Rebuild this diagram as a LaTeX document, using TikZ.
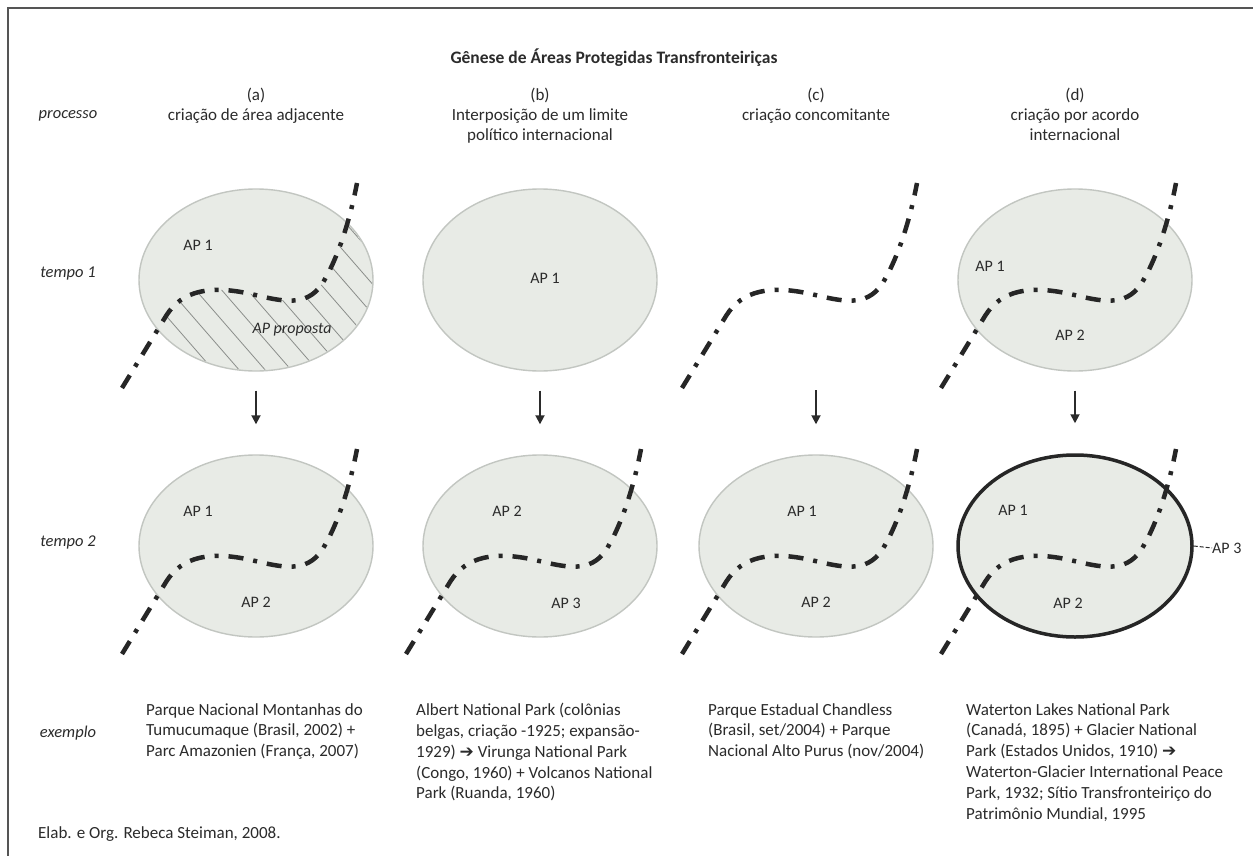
\documentclass[tikz,border=0pt]{standalone}
\usepackage{fontspec}
\setmainfont{Carlito}
\newfontfamily\dejavu{DejaVu Sans}
\usetikzlibrary{shapes.geometric,arrows.meta}
\definecolor{txt}{HTML}{2B2B2B}
\definecolor{apfill}{HTML}{E8EBE6}
\definecolor{apedge}{HTML}{C2C6C1}
\definecolor{bline}{HTML}{262626}
\definecolor{hatchc}{HTML}{8A8D8A}
\definecolor{framec}{HTML}{555555}
\newcommand\bigarrow{{\dejavu\char"2794}}
\newcommand\frontierpath{(-134,108) -- (-90,36) .. controls (-74,10) and (-45,5) .. (-5,14) .. controls (25,21) and (50,28) .. (66,4) .. controls (80,-18) and (93,-55) .. (101,-97)}
\newcommand\drawfrontier[2]{\begin{scope}[shift={(#1,#2)}]\draw[border] (-134,108) -- (-90,36) .. controls (-74,10) and (-45,5) .. (-5,14) .. controls (25,21) and (50,28) .. (66,4) .. controls (80,-18) and (93,-55) .. (101,-97);\end{scope}}
\begin{document}
\begin{tikzpicture}[x=1pt,y=-1pt,
  ap/.style={ellipse, draw=apedge, line width=1.4pt, fill=apfill, minimum width=234pt, minimum height=182pt, inner sep=0pt},
  apbold/.style={ap, draw=black!85, line width=3.5pt},
  lbl/.style={text=txt, inner sep=0pt, font=\fontsize{16}{19}\selectfont},
  rowlbl/.style={lbl, font=\itshape\fontsize{16.5}{19}\selectfont},
  head/.style={lbl, align=center, anchor=north, font=\fontsize{17}{20}\selectfont},
  extext/.style={lbl, align=left, anchor=north west, font=\fontsize{17}{20.8}\selectfont},
  border/.style={draw=bline, line width=4.5pt, dash pattern=on 15pt off 10pt on 4pt off 10pt},
  hatchline/.style={draw=hatchc, line width=0.8pt},
  arr/.style={draw=txt, line width=1.8pt, -{Triangle[width=9pt,length=9pt]}}
]
\useasboundingbox (0,0) rectangle (1253,856);
\fill[white] (0,0) rectangle (1253,856);
% frame
\draw[framec, line width=1.6pt] (8,856) -- (8,8) -- (1253,8);

% title
\node[lbl, font=\bfseries\fontsize{17.5}{20}\selectfont] (title) at (614,58) {Gênese de Áreas Protegidas Transfronteiriças};

% row labels
\node[rowlbl] (lproc) at (68,116) {processo};
\node[rowlbl] (lt1) at (68,274) {tempo 1};
\node[rowlbl] (lt2) at (68,542) {tempo 2};
\node[rowlbl] (lex) at (68,733) {exemplo};

% headers
\node[head] (ha) at (256,88) {(a)\\criação de área adjacente};
\node[head] (hb) at (540,88) {(b)\\Interposição de um limite\\político internacional};
\node[head] (hc) at (816,88) {(c)\\criação concomitante};
\node[head] (hd) at (1075,88) {(d)\\criação por acordo\\internacional};

% tempo 1
\node[ap] (a1) at (256,280) {};
\begin{scope}[shift={(256,280)}]
  \clip (0,0) ellipse [x radius=116, y radius=90];
  \clip \frontierpath -- (160,-97) -- (160,130) -- (-160,130) -- cycle;
  \foreach \k in {-14,...,12} \draw[hatchline] (\k*26,-100) -- ++(200,230);
\end{scope}
\node[ap] (b1) at (540,280) {};
\coordinate (c1) at (816,280);
\node[ap] (d1) at (1075,280) {};

\node[lbl] (a1t) at (198,245) {AP 1};
\node[lbl, font=\itshape\fontsize{16}{19}\selectfont] (a1p) at (292,330) {AP proposta};
\node[lbl] (b1t) at (545,278) {AP 1};
\node[lbl] (d1t) at (990,266) {AP 1};
\node[lbl] (d1u) at (1070,335) {AP 2};

\drawfrontier{256}{280}
\drawfrontier{816}{280}
\drawfrontier{1075}{280}

% tempo 2
\node[ap] (a2) at (256,546) {};
\node[ap] (b2) at (540,546) {};
\node[ap] (c2) at (816,546) {};
\node[apbold] (d2) at (1075,546) {};

\node[lbl] (a2t) at (198,511) {AP 1};
\node[lbl] (a2u) at (256,602) {AP 2};
\node[lbl] (b2t) at (507,511) {AP 2};
\node[lbl] (b2u) at (566,603) {AP 3};
\node[lbl] (c2t) at (802,511) {AP 1};
\node[lbl] (c2u) at (816,602) {AP 2};
\node[lbl] (d2t) at (1013,510) {AP 1};
\node[lbl] (d2u) at (1068,603) {AP 2};
\node[lbl, anchor=west] (d2ap3) at (1212,548) {AP 3};
\draw[txt, line width=1pt, dash pattern=on 4pt off 2pt] (d2.east) -- (d2ap3.west);

\drawfrontier{256}{546}
\drawfrontier{540}{546}
\drawfrontier{816}{546}
\drawfrontier{1075}{546}

% arrows
\draw[arr] ([yshift=-19pt]a1.south) -- ([yshift=30pt]a2.north);
\draw[arr] ([yshift=-19pt]b1.south) -- ([yshift=30pt]b2.north);
\draw[arr] ([yshift=-110pt]c1) -- ([yshift=30pt]c2.north);
\draw[arr] ([yshift=-19pt]d1.south) -- ([yshift=30pt]d2.north);

% examples
\node[extext] (exa) at (146,703) {Parque Nacional Montanhas do\\Tumucumaque (Brasil, 2002) +\\Parc Amazonien (França, 2007)};
\node[extext] (exb) at (416,703) {Albert National Park (colônias\\belgas, criação -1925; expansão-\\1929) \bigarrow{} Virunga National Park\\(Congo, 1960) + Volcanos National\\Park (Ruanda, 1960)};
\node[extext] (exc) at (708,703) {Parque Estadual Chandless\\(Brasil, set/2004) + Parque\\Nacional Alto Purus (nov/2004)};
\node[extext] (exd) at (966,703) {Waterton Lakes National Park\\(Canadá, 1895) + Glacier National\\Park (Estados Unidos, 1910) \bigarrow\\Waterton-Glacier International Peace\\Park, 1932; Sítio Transfronteiriço do\\Patrimônio Mundial, 1995};

\node[lbl, anchor=west, font=\fontsize{17}{20}\selectfont] (credit) at (38,834) {Elab. e Org. Rebeca Steiman, 2008.};
\end{tikzpicture}
\end{document}
